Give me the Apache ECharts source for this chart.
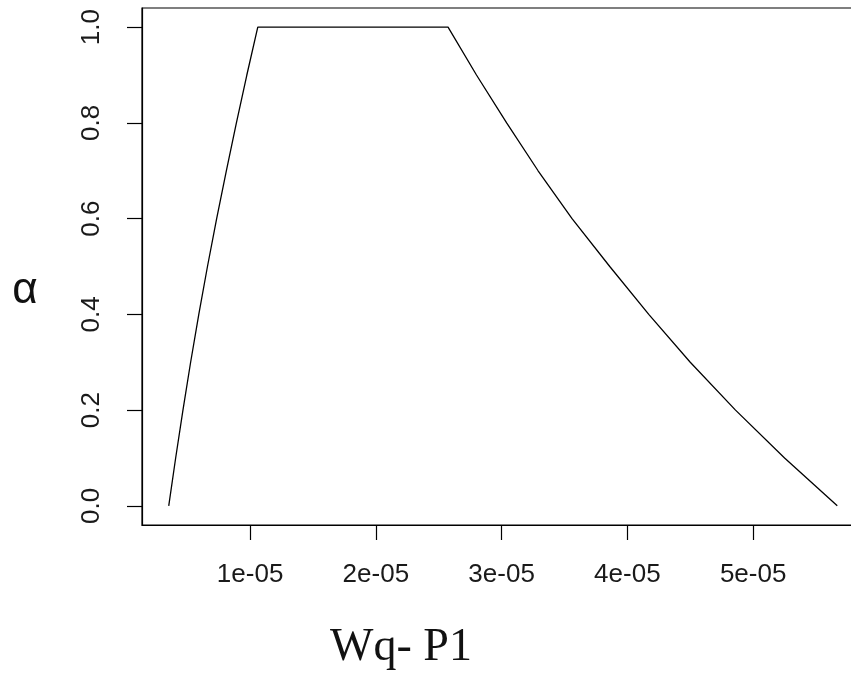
<!DOCTYPE html>
<html>
<head>
<meta charset="utf-8">
<script src="https://cdn.jsdelivr.net/npm/echarts@6/dist/echarts.min.js"></script>
<style>
  html, body { margin: 0; padding: 0; background: #fff; }
  #chart { width: 851px; height: 675px; }
</style>
</head>
<body>
<div id="chart"></div>
<script>
// alpha-cut levels and the Wq bounds for P1 at each level
const alphaLevels = [0, 0.1, 0.2, 0.3, 0.4, 0.5, 0.6, 0.7, 0.8, 0.9, 1.0];
const wqLower = [3.53e-6, 4.08e-6, 4.66e-6, 5.27e-6, 5.92e-6, 6.61e-6, 7.34e-6, 8.11e-6, 8.91e-6, 9.74e-6, 1.061e-5];
const wqUpper = [5.669e-5, 5.25e-5, 4.86e-5, 4.50e-5, 4.17e-5, 3.86e-5, 3.56e-5, 3.29e-5, 3.04e-5, 2.80e-5, 2.574e-5];

const xTickValues = [1e-5, 2e-5, 3e-5, 4e-5, 5e-5];
const xTickLabels = ['1e-05', '2e-05', '3e-05', '4e-05', '5e-05'];
const yTickValues = [0, 0.2, 0.4, 0.6, 0.8, 1.0];
const yTickLabels = ['0.0', '0.2', '0.4', '0.6', '0.8', '1.0'];

const xLabel = 'Wq- P1';
const yLabel = 'α';

// membership curve: rising edge, then the upper bounds from alpha 1 back to 0
const points = [];
alphaLevels.forEach((a, i) => points.push([wqLower[i], a]));
for (let i = alphaLevels.length - 1; i >= 0; i--) points.push([wqUpper[i], alphaLevels[i]]);

// R-style 4% padding around the data range
const xs = points.map(p => p[0]);
const xMinData = Math.min(...xs), xMaxData = Math.max(...xs);
const xPad = (xMaxData - xMinData) * 0.04;
const yPad = 0.04;

function labelFor(values, labels, v) {
  let best = 0;
  values.forEach((t, i) => { if (Math.abs(t - v) < Math.abs(values[best] - v)) best = i; });
  return labels[best];
}

const chart = echarts.init(document.getElementById('chart'), null, { renderer: 'canvas' });
const labelFont = { fontFamily: 'Liberation Sans, Arial, sans-serif', fontSize: 26, color: '#1a1a1a' };

chart.setOption({
  animation: false,
  backgroundColor: '#fff',
  grid: {
    left: 142, top: 8, width: 722, height: 517,
    outerBoundsMode: 'none',
    containLabel: false,
    show: true, borderColor: '#000', borderWidth: 1.2, backgroundColor: 'transparent'
  },
  xAxis: {
    type: 'value',
    min: xMinData - xPad,
    max: xMaxData + xPad,
    splitLine: { show: false },
    axisLine: { show: true, onZero: false, lineStyle: { color: '#000', width: 1.2 } },
    axisTick: { show: true, inside: false, length: 15, customValues: xTickValues, lineStyle: { color: '#000', width: 1.2 } },
    axisLabel: Object.assign({
      margin: 37,
      customValues: xTickValues,
      formatter: v => labelFor(xTickValues, xTickLabels, v)
    }, labelFont)
  },
  yAxis: {
    type: 'value',
    min: -yPad,
    max: 1 + yPad,
    splitLine: { show: false },
    axisLine: { show: true, onZero: false, lineStyle: { color: '#000', width: 1.2 } },
    axisTick: { show: true, inside: false, length: 15, customValues: yTickValues, lineStyle: { color: '#000', width: 1.2 } },
    axisLabel: Object.assign({
      margin: 37,
      rotate: 90,
      customValues: yTickValues,
      formatter: v => labelFor(yTickValues, yTickLabels, v)
    }, labelFont)
  },
  series: [{
    type: 'line',
    data: points,
    showSymbol: false,
    lineStyle: { color: '#000', width: 1.3 },
    silent: true
  }],
  graphic: [
    {
      type: 'text',
      x: 401, y: 648,
      style: {
        text: xLabel,
        x: 0, y: 0,
        fill: '#111',
        font: '46px "Liberation Serif", "Times New Roman", serif',
        textAlign: 'center',
        textVerticalAlign: 'middle'
      }
    },
    {
      type: 'text',
      x: 25, y: 291,
      style: {
        text: yLabel,
        x: 0, y: 0,
        fill: '#111',
        font: '44px "Liberation Sans", Arial, sans-serif',
        textAlign: 'center',
        textVerticalAlign: 'middle'
      }
    }
  ]
});
</script>
</body>
</html>
